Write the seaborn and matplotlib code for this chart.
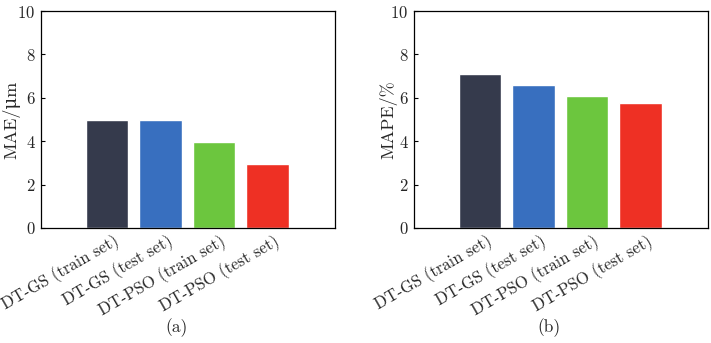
import matplotlib
matplotlib.use("Agg")
import matplotlib.pyplot as plt
import matplotlib.transforms as mtransforms
import seaborn as sns
import pandas as pd

models = ["DT-GS (train set)", "DT-GS (test set)", "DT-PSO (train set)", "DT-PSO (test set)"]
mae_um = [4.99, 4.96, 3.98, 2.97]
mape_pct = [7.08, 6.60, 6.10, 5.77]
bar_colors = ["#353a4c", "#386fbf", "#6cc63e", "#ee3024"]

sns.set_theme(style="white")
plt.rcParams["font.family"] = ["cmr10", "DejaVu Serif"]
plt.rcParams["mathtext.fontset"] = "cm"
plt.rcParams["axes.formatter.use_mathtext"] = True

df = pd.DataFrame({"model": models, "MAE": mae_um, "MAPE": mape_pct})

fig = plt.figure(figsize=(7.11, 3.43), dpi=100)
ax_a = fig.add_axes([41 / 711, 1 - 228 / 343, 294 / 711, 217 / 343])
ax_b = fig.add_axes([414 / 711, 1 - 228 / 343, 294 / 711, 217 / 343])

panels = [(ax_a, "MAE", "MAE/μm", "(a)", -0.071), (ax_b, "MAPE", "MAPE/%", "(b)", -0.058)]
for ax, col, ylabel, tag, ylab_x in panels:
    sns.barplot(data=df, x="model", y=col, hue="model", palette=bar_colors,
                width=0.79, saturation=1, legend=False, ax=ax)
    ax.set_xlim(-1.23, 4.26)
    ax.set_ylim(0, 10)
    ax.set_yticks([0, 2, 4, 6, 8, 10])
    ax.set_xlabel("")
    ax.set_ylabel(ylabel, fontsize=13)
    ax.yaxis.set_label_coords(ylab_x, 0.5)
    ax.tick_params(axis="y", direction="in", length=3, width=0.8, left=True,
                   labelsize=12, pad=4, color="black")
    ax.tick_params(axis="x", length=0, labelsize=12, pad=3)
    shift = mtransforms.ScaledTranslation(6 / 100, 0, fig.dpi_scale_trans)
    for lab in ax.get_xticklabels():
        lab.set_rotation(30)
        lab.set_ha("right")
        lab.set_rotation_mode("anchor")
        lab.set_transform(lab.get_transform() + shift)
    for s in ax.spines.values():
        s.set_color("black")
        s.set_linewidth(0.9)
        s.set_visible(True)
    ax.text(0.46, -0.46, tag, transform=ax.transAxes, ha="center", va="center",
            fontsize=12.5)

fig.savefig("out.png", dpi=100, facecolor="white")
